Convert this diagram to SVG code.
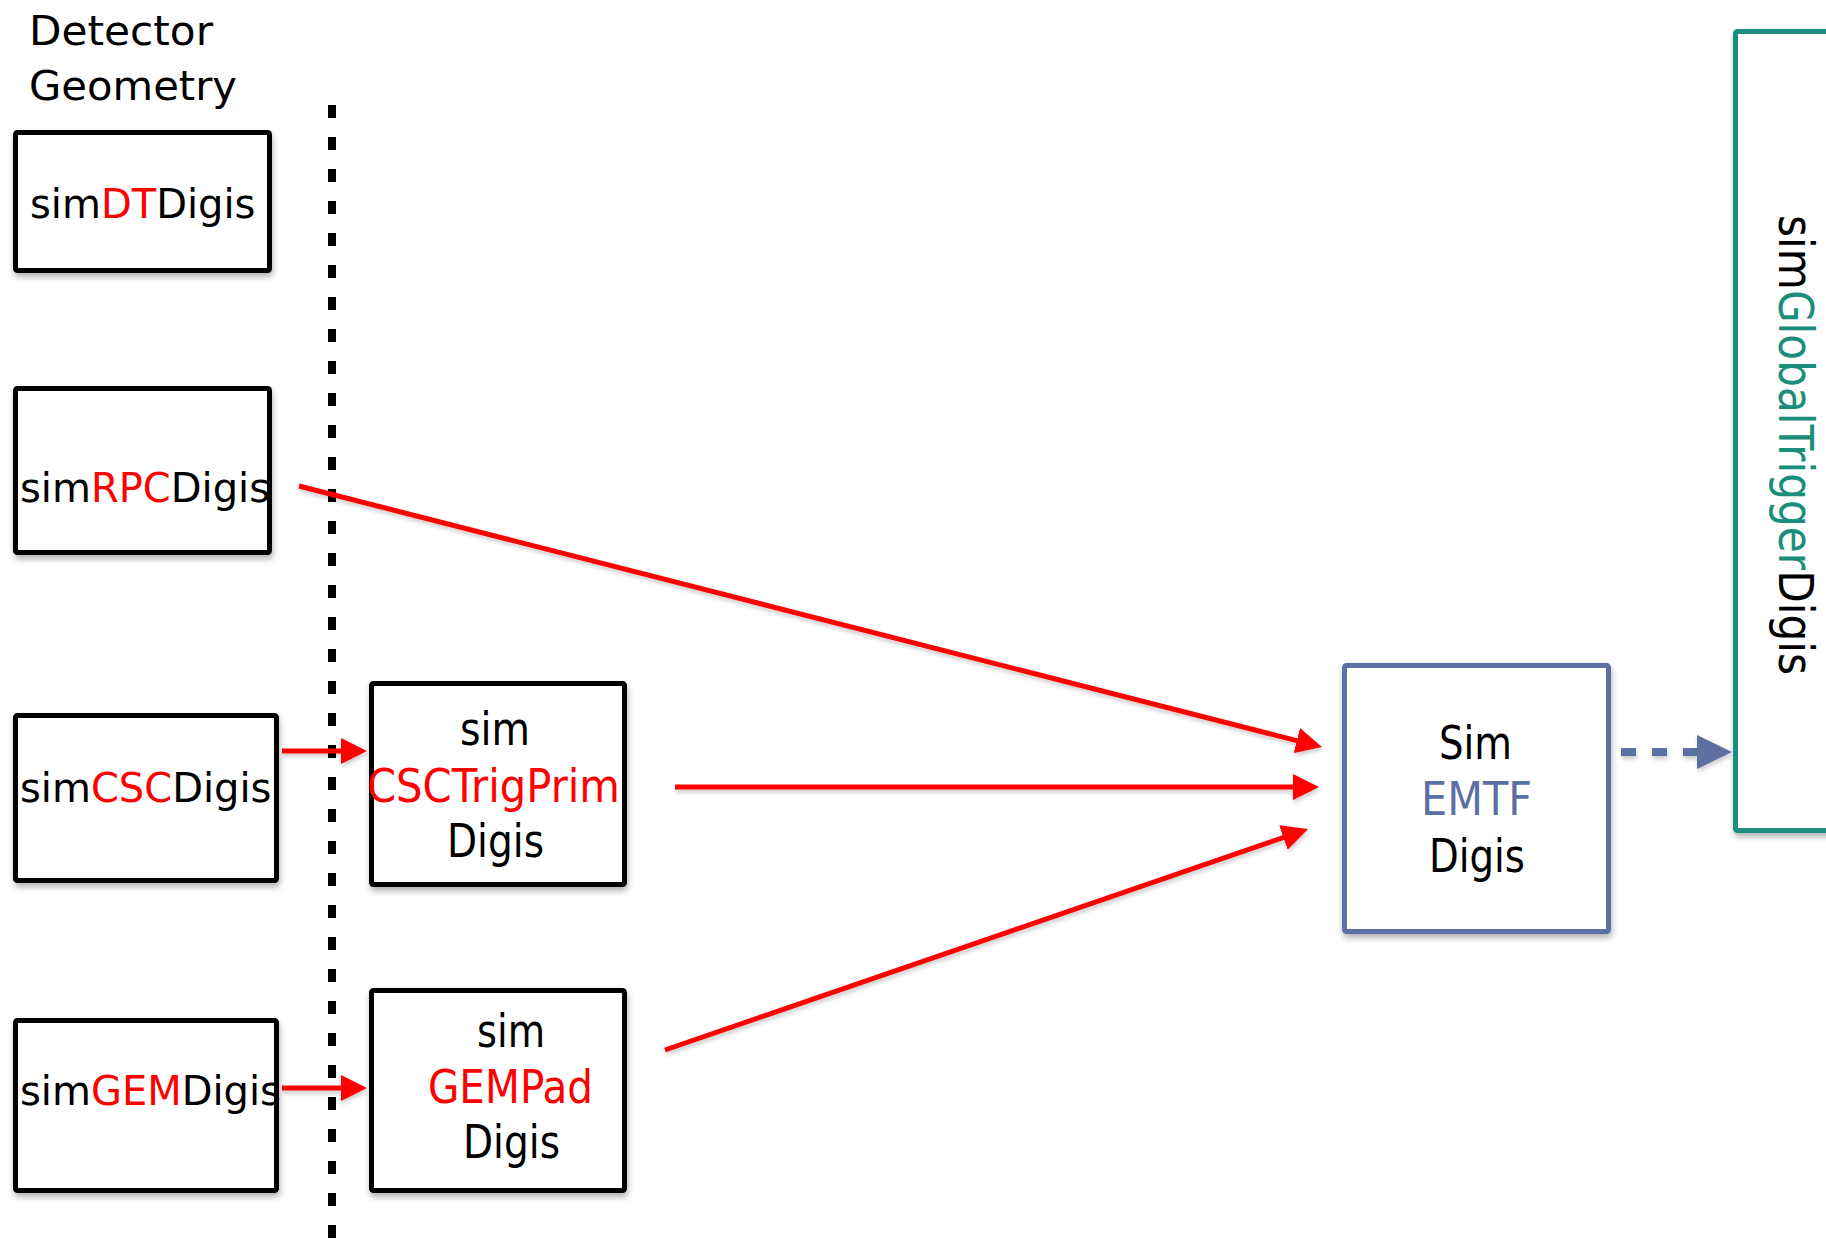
<svg xmlns="http://www.w3.org/2000/svg" width="1826" height="1239" viewBox="0 0 1826 1239">
  <style>
    text { font-family: "DejaVu Sans", "Liberation Sans", sans-serif; fill: #000; }
    .lbl { font-size: 40px; }
    .big { font-size: 46px; }
    .red { fill: #ff0000; }
    .slate { fill: #5b6fa3; }
    .teal { fill: #1b8e7b; }
    .box { fill: #fff; stroke: #000; stroke-width: 5; filter: url(#shadow); }
    .emtf { fill: #fff; stroke: #5b6fa3; stroke-width: 5; filter: url(#shadow); }
    .gt { fill: #fff; stroke: #1b8e7b; stroke-width: 5; filter: url(#shadow); }
    .feed { stroke: #ff0000; stroke-width: 5; fill: none; marker-end: url(#redHead); }
    .out { stroke: #5b6fa3; stroke-width: 8; fill: none; stroke-dasharray: 15 16; marker-end: url(#blueHead); }
    .divider { stroke: #000; stroke-width: 8; stroke-dasharray: 13 19; fill: none; }
  </style>
  <defs>
    <filter id="shadow" x="-10%" y="-10%" width="130%" height="130%">
      <feDropShadow dx="1" dy="4" stdDeviation="3" flood-color="#000" flood-opacity="0.3"/>
    </filter>
    <!-- user-space region so that horizontal connectors (zero-height bbox) keep their shadow -->
    <filter id="soft" filterUnits="userSpaceOnUse" x="0" y="0" width="1826" height="1239">
      <feDropShadow dx="1" dy="3" stdDeviation="2" flood-color="#000" flood-opacity="0.2"/>
    </filter>
    <marker id="redHead" markerUnits="userSpaceOnUse" markerWidth="26" markerHeight="26" refX="6" refY="13" orient="auto">
      <path d="M0,0 L26,13 L0,26 z" fill="#ff0000"/>
    </marker>
    <marker id="blueHead" markerUnits="userSpaceOnUse" markerWidth="35" markerHeight="34" refX="3" refY="17" orient="auto">
      <path d="M0,0 L35,17 L0,34 z" fill="#5b6fa3"/>
    </marker>
  </defs>

  <rect width="1826" height="1239" fill="#fff"/>

  <!-- geometry heading and divider -->
  <g id="detector-geometry">
    <text class="lbl" x="29" y="45" textLength="184" lengthAdjust="spacingAndGlyphs">Detector</text>
    <text class="lbl" x="29" y="100" textLength="208" lengthAdjust="spacingAndGlyphs">Geometry</text>
  </g>
  <line class="divider" x1="332" y1="105" x2="332" y2="1239"/>

  <!-- detector digi producers -->
  <g id="simDTDigis">
    <rect class="box" x="15.5" y="132.5" width="254" height="138" rx="2"/>
    <text class="lbl" x="30" y="218">sim<tspan class="red">DT</tspan>Digis</text>
  </g>
  <g id="simRPCDigis">
    <rect class="box" x="15.5" y="388.5" width="254" height="164" rx="2"/>
    <text class="lbl" x="20" y="502">sim<tspan class="red">RPC</tspan>Digis</text>
  </g>
  <g id="simCSCDigis">
    <rect class="box" x="15.5" y="715.5" width="261" height="165" rx="2"/>
    <text class="lbl" x="20" y="802">sim<tspan class="red">CSC</tspan>Digis</text>
  </g>
  <g id="simGEMDigis">
    <rect class="box" x="15.5" y="1020.5" width="261" height="170" rx="2"/>
    <text class="lbl" x="20" y="1105">sim<tspan class="red">GEM</tspan>Digis</text>
  </g>

  <!-- trigger primitive producers -->
  <g id="simCSCTrigPrimDigis">
    <rect class="box" x="371.5" y="683.5" width="253" height="201" rx="2"/>
    <text class="big" x="495" y="745" text-anchor="middle" textLength="70" lengthAdjust="spacingAndGlyphs">sim</text>
    <text class="big red" x="493.5" y="802" text-anchor="middle" textLength="253" lengthAdjust="spacingAndGlyphs">CSCTrigPrim</text>
    <text class="big" x="495.5" y="857" text-anchor="middle" textLength="97" lengthAdjust="spacingAndGlyphs">Digis</text>
  </g>
  <g id="simGEMPadDigis">
    <rect class="box" x="371.5" y="990.5" width="253" height="200" rx="2"/>
    <text class="big" x="511" y="1047" text-anchor="middle" textLength="68" lengthAdjust="spacingAndGlyphs">sim</text>
    <text class="big red" x="510.5" y="1103" text-anchor="middle" textLength="165" lengthAdjust="spacingAndGlyphs">GEMPad</text>
    <text class="big" x="511.5" y="1158" text-anchor="middle" textLength="97" lengthAdjust="spacingAndGlyphs">Digis</text>
  </g>

  <!-- track finder -->
  <g id="SimEMTFDigis">
    <rect class="emtf" x="1344.5" y="665.5" width="264" height="266" rx="2"/>
    <text class="big" x="1475.5" y="759" text-anchor="middle" textLength="73" lengthAdjust="spacingAndGlyphs">Sim</text>
    <text class="big slate" x="1476.5" y="815" text-anchor="middle" textLength="111" lengthAdjust="spacingAndGlyphs">EMTF</text>
    <text class="big" x="1477" y="872" text-anchor="middle" textLength="96" lengthAdjust="spacingAndGlyphs">Digis</text>
  </g>

  <!-- global trigger -->
  <g id="simGlobalTriggerDigis">
    <rect class="gt" x="1735.5" y="31.5" width="200" height="799" rx="2"/>
    <text transform="translate(1779,215) rotate(90)" x="0" y="0" font-size="48" textLength="460" lengthAdjust="spacingAndGlyphs">sim<tspan class="teal">GlobalTrigger</tspan>Digis</text>
  </g>

  <!-- data flow -->
  <g id="connectors" filter="url(#soft)">
    <line class="feed" x1="282" y1="751" x2="347" y2="751"/>
    <line class="feed" x1="282" y1="1088" x2="347" y2="1088"/>
    <line class="feed" x1="299" y1="486" x2="1302.6" y2="742.1"/>
    <line class="feed" x1="675" y1="787" x2="1299" y2="787"/>
    <line class="feed" x1="665" y1="1050" x2="1289.1" y2="835.5"/>
    <line class="out" x1="1621" y1="752" x2="1700" y2="752"/>
  </g>
</svg>
